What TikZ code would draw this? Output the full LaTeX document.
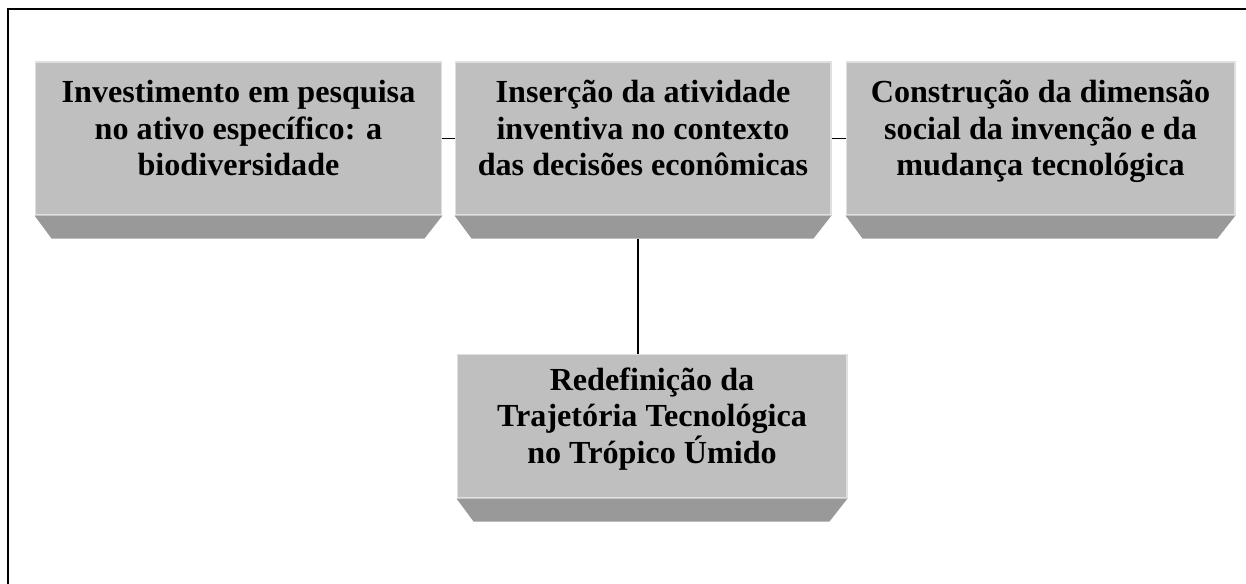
\documentclass[tikz,border=0pt]{standalone}
\usepackage{fontspec}
\setmainfont{Liberation Serif}
\usepackage{tikz}
\usetikzlibrary{calc}
\newcommand{\evenstrut}{\rule[-12pt]{0pt}{37pt}}
\tikzset{
  facebox/.style={fill=black!25, draw=black!12, line width=0.6pt, inner sep=0pt,
    align=center, font=\bfseries\fontsize{18.3}{20.8}\selectfont,
    execute at begin node=\evenstrut, execute at end node=\evenstrut},
  bevel/.style={fill=black!40},
  link/.style={line width=0.8pt}
}
\begin{document}
\begin{tikzpicture}[x=0.02cm, y=-0.02cm]
    \useasboundingbox (0,0) rectangle (1246,583);
    \clip (0,0) rectangle (1246,583);
    \draw[line width=1.1pt] (8,9) rectangle (1270,610);
    % upper row
    \node[facebox, minimum width=8.14cm, minimum height=3.06cm] (invest) at (238.5,138.5)
        {Investimento em pesquisa\\ no ativo específico: a\\ biodiversidade};
    \node[facebox, minimum width=7.52cm, minimum height=3.06cm] (insert) at (643,138.5)
        {Inserção da atividade\\ inventiva no contexto\\ das decisões econômicas};
    \node[facebox, minimum width=7.78cm, minimum height=3.06cm] (social) at (1040.5,138.5)
        {Construção da dimensão\\ social da invenção e da\\ mudança tecnológica};
    % lower box
    \node[facebox, minimum width=7.80cm, minimum height=2.88cm] (trajet) at (652,426)
        {Redefinição da\\ Trajetória Tecnológica\\ no Trópico Úmido};
    \foreach \b in {invest,insert,social,trajet} {
        \fill[bevel] (\b.south west) -- (\b.south east) -- ($(\b.south east)+(-18,23)$)
            -- ($(\b.south west)+(17,23)$) -- cycle;
    }
    \coordinate (drop) at ($(insert.south)+(-5,23)$);
    \draw[link] (invest.east) -- (insert.west);
    \draw[link] (insert.east) -- (social.west);
    \draw[link] (drop) -- (drop |- trajet.north);
\end{tikzpicture}
\end{document}
